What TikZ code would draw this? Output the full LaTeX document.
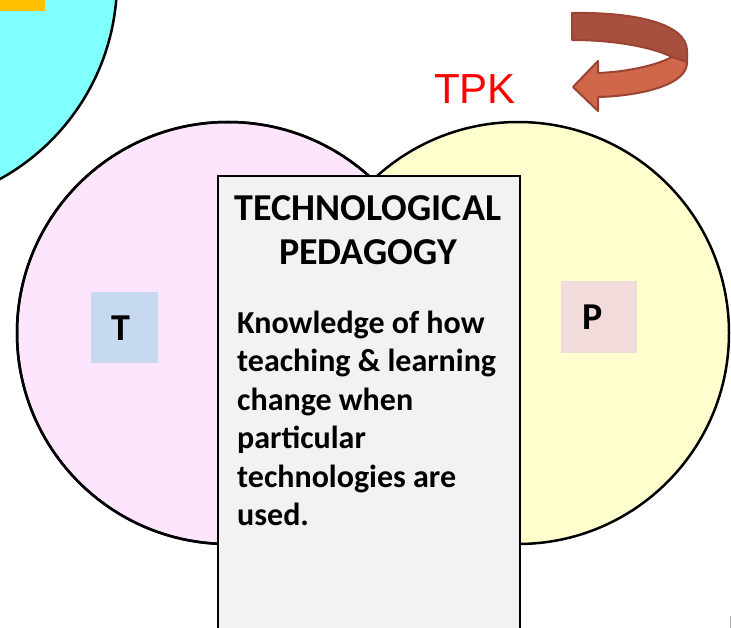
\documentclass[tikz,border=0pt]{standalone}
\usepackage{fontspec}
\setmainfont{Carlito}
\newfontfamily\tpkfont{Liberation Sans}
\usetikzlibrary{positioning}
\definecolor{C}{RGB}{128,255,255}
\definecolor{O}{RGB}{255,192,0}
\definecolor{PK}{RGB}{253,230,253}
\definecolor{Y}{RGB}{255,255,206}
\definecolor{GB}{RGB}{242,242,242}
\definecolor{TB}{RGB}{198,217,240}
\definecolor{PB}{RGB}{242,220,219}
\definecolor{AD}{RGB}{166,80,61}
\definecolor{AL}{RGB}{208,103,75}
\definecolor{AE}{RGB}{155,68,52}

\begin{document}
\begin{tikzpicture}[x=1pt,y=-1pt,
  circ/.style={circle, draw=black, line width=2.5pt, minimum size=422pt, inner sep=0pt},
  letter/.style={font=\fontsize{38}{45}\selectfont\bfseries, inner sep=0pt}]
  \useasboundingbox (0,0) rectangle (731,628);
  \clip (0,0) rectangle (731,628);
  % cut-off circle, top left
  \node[circ, fill=C, minimum size=452pt] (ccirc) at (-109,-19) {};
  \fill[O] (0,0) rectangle (45,11);
  % the two circles
  \node[circ, fill=PK] (tcirc) at (228,333) {};
  \node[circ, fill=Y] (pcirc) at (518,333) {};
  \node[circ] at (tcirc) {};
  \node[fill=TB, minimum width=67pt, minimum height=71pt] (tbox) at (124.5,327.5) {};
  \node[letter] (tlab) at (121,328) {T};
  \node[fill=PB, minimum width=76pt, minimum height=72pt] (pbox) at (599,317) {};
  \node[letter] (plab) at (593,317) {P};
  % middle box
  \node[draw=black, line width=2pt, fill=GB, anchor=north west, minimum width=302pt, minimum height=480pt] (tpbox) at (217,175) {};
  \node[font=\fontsize{38}{44}\selectfont\bfseries, align=center, anchor=base] (title) at (368,265) {TECHNOLOGICAL\\PEDAGOGY};
  \node[font=\fontsize{32}{38.5}\selectfont\bfseries, align=left, anchor=base west, inner sep=0pt] (desc) at (237,525.5)
    {Knowledge of how\\teaching \& learning\\change when\\particular\\technologies are\\used.};
  % curled arrow
  \filldraw[AD, draw=AE, line width=2pt, line join=round] (572,13) .. controls (640,12) and (686,25) .. (687,50) -- (687,62) -- (672,57) .. controls (650,46) and (610,40) .. (572,40) -- cycle;
  \filldraw[AL, draw=AE, line width=2pt, line join=round] (687,62) .. controls (688,85) and (640,96) .. (598,97) -- (598,111) -- (573,87) -- (598,61) -- (598,73) .. controls (625,72) and (655,66) .. (672,57) -- cycle;
  \node[font=\tpkfont\fontsize{42}{50}\selectfont, text=red, anchor=base] (tpk) at (475,104) {TPK};
  \draw[gray!60, line width=1pt] (730,616) -- (730,628);
\end{tikzpicture}
\end{document}
